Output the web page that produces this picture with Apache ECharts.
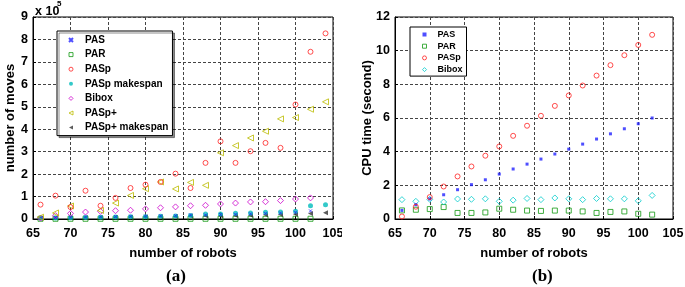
<!DOCTYPE html>
<html>
<head>
<meta charset="utf-8">
<script src="https://cdn.jsdelivr.net/npm/echarts@6/dist/echarts.min.js"></script>
<style>
  html, body { margin: 0; padding: 0; background: #fff; }
  #moves { position: absolute; left: 0; top: 0; width: 342px; height: 287px; }
  #cpu { position: absolute; left: 342px; top: 0; width: 343px; height: 287px; }
</style>
</head>
<body>
<div id="moves"></div>
<div id="cpu"></div>
<script>
// (a) number of moves, in units of 10^5
const robotsA = [66, 68, 70, 72, 74, 76, 78, 80, 82, 84, 86, 88, 90, 92, 94, 96, 98, 100, 102, 104]
const movesPAS = [0.05, 0.07, 0.08, 0.09, 0.1, 0.11, 0.12, 0.13, 0.14, 0.15, 0.18, 0.18, 0.2, 0.21, 0.23, 0.25, 0.27, 0.3, 0.36, null]
const movesPAR = [0.01, 0.01, 0.01, 0.01, 0.01, 0.01, 0.01, 0.01, 0.01, 0.01, 0.01, 0.01, 0.01, 0.01, 0.01, 0.01, 0.01, 0.01, 0.01, null]
const movesPASp = [0.64, 1.04, 0.53, 1.26, 0.59, 0.94, 1.38, 1.53, 1.65, 2.02, 1.38, 2.5, 3.46, 2.5, 3.02, 3.39, 3.17, 5.1, 7.45, 8.27]
const movesPASpMakespan = [0.04, 0.05, 0.06, 0.07, 0.08, 0.09, 0.1, 0.1, 0.12, 0.13, 0.16, 0.22, 0.22, 0.26, 0.27, 0.3, 0.31, 0.34, 0.59, 0.64]
const movesBibox = [0.04, 0.15, 0.25, 0.31, 0.34, 0.37, 0.39, 0.45, 0.5, 0.54, 0.59, 0.61, 0.67, 0.71, 0.76, 0.77, 0.82, 0.89, 0.94, null]
const movesPASpPlus = [0.08, 0.27, 0.58, null, 0.38, 0.71, 1.05, 1.35, 1.65, 1.34, 1.63, 1.5, 2.95, 3.27, 3.61, 3.91, 4.46, 4.52, 4.89, 5.22]
const movesPASpPlusMakespan = [0.03, 0.04, 0.05, 0.06, 0.06, 0.07, 0.08, 0.09, 0.1, 0.11, 0.13, 0.14, 0.14, 0.16, 0.17, 0.19, 0.2, 0.21, 0.25, 0.28]

// (b) CPU time in seconds
const robotsB = [66, 68, 70, 72, 74, 76, 78, 80, 82, 84, 86, 88, 90, 92, 94, 96, 98, 100, 102]
const cpuPAS = [0.51, 0.85, 1.19, 1.44, 1.74, 2.04, 2.33, 2.67, 2.97, 3.26, 3.56, 3.86, 4.15, 4.45, 4.75, 5.06, 5.36, 5.66, 6.0]
const cpuPAR = [0.51, 0.55, 0.59, 0.71, 0.36, 0.36, 0.39, 0.61, 0.55, 0.5, 0.48, 0.5, 0.5, 0.45, 0.36, 0.42, 0.45, 0.31, 0.26]
const cpuPASp = [0.15, 0.73, 1.3, 1.93, 2.53, 3.12, 3.76, 4.31, 4.94, 5.54, 6.13, 6.72, 7.34, 7.93, 8.52, 9.14, 9.73, 10.34, 10.94]
const cpuBibox = [1.15, 1.05, 1.17, 1.01, 1.19, 1.17, 1.2, 1.05, 1.12, 1.22, 1.15, 1.25, 1.2, 1.15, 1.22, 1.2, 1.2, 1.08, 1.4]

const xTicks = { min: 65, max: 105, interval: 5 }
const movesTicks = { min: 0, max: 9, interval: 1 }
const cpuTicks = { min: 0, max: 12, interval: 2 }

const FONT = 'Liberation Sans'
const crossPath = 'path://M0,0L10,10M10,0L0,10'
const leftTri = 'path://M10,0L10,10L0,5Z'

function pairs(xs, ys) {
  return xs.map((x, i) => [x, ys[i]]).filter(p => p[1] !== null)
}

function hollowStyle(color) {
  return { color: 'rgba(255,255,255,0)', borderColor: color, borderWidth: 1 }
}

function axisX(name) {
  return {
    type: 'value',
    min: xTicks.min,
    max: xTicks.max,
    interval: xTicks.interval,
    name: name,
    nameLocation: 'middle',
    nameMoveOverlap: false,
    nameGap: 28,
    nameTextStyle: { fontFamily: FONT, fontWeight: 'bold', fontSize: 13, color: '#000' },
    axisLine: { onZero: false, lineStyle: { color: '#000', width: 1 } },
    axisTick: { inside: true, length: 3, lineStyle: { color: '#000' } },
    axisLabel: { margin: 8, fontFamily: FONT, fontWeight: 'bold', fontSize: 12.5, color: '#000' },
    splitLine: { show: true, lineStyle: { color: '#444', type: [3, 2], width: 1 } },
  }
}

function axisY(name, ticks, gap) {
  return {
    type: 'value',
    min: ticks.min,
    max: ticks.max,
    interval: ticks.interval,
    name: name,
    nameLocation: 'middle',
    nameMoveOverlap: false,
    nameRotate: 90,
    nameGap: gap,
    nameTextStyle: { fontFamily: FONT, fontWeight: 'bold', fontSize: 13, color: '#000' },
    axisLine: { show: true, lineStyle: { color: '#000', width: 1 } },
    axisTick: { inside: true, length: 3, lineStyle: { color: '#000' } },
    axisLabel: { margin: 5, fontFamily: FONT, fontWeight: 'bold', fontSize: 12.5, color: '#000' },
    splitLine: { show: true, lineStyle: { color: '#444', type: [3, 2], width: 1 } },
  }
}

function dot(name, xs, ys, symbol, size, color, hollow) {
  return {
    name: name,
    type: 'scatter',
    symbol: symbol,
    symbolSize: size,
    itemStyle: hollow
      ? hollowStyle(color)
      : { color: color, borderColor: color, borderWidth: symbol === crossPath ? 1 : 0 },
    emphasis: { disabled: true },
    data: pairs(xs, ys),
  }
}

// 左图：移动次数
const movesChart = echarts.init(document.getElementById('moves'))
movesChart.setOption({
  animation: false,
  grid: { left: 33, top: 17, width: 300, height: 202, outerBoundsMode: 'none', show: true, borderColor: '#000', borderWidth: 1 },
  xAxis: axisX('number of robots'),
  yAxis: axisY('number of moves', movesTicks, 16),
  legend: {
    orient: 'vertical',
    left: 57,
    top: 31,
    width: 123,
    padding: [4, 4, 3, 11],
    itemGap: 4.6,
    itemWidth: 4,
    itemHeight: 4,
    backgroundColor: '#fff',
    borderColor: '#000',
    borderWidth: 1,
    shadowColor: 'rgba(0,0,0,0.45)',
    shadowOffsetX: 2,
    shadowOffsetY: 2,
    textStyle: { fontFamily: FONT, fontWeight: 'bold', fontSize: 10, color: '#000', lineHeight: 10, padding: [0, 0, 0, 7] },
    data: [
      { name: 'PAS', icon: crossPath },
      { name: 'PAR', icon: 'rect', itemStyle: hollowStyle('#119911') },
      { name: 'PASp', icon: 'circle', itemStyle: hollowStyle('#ff2222') },
      { name: 'PASp makespan', icon: 'circle' },
      { name: 'Bibox', icon: 'diamond', itemStyle: hollowStyle('#cc00cc') },
      { name: 'PASp+', icon: leftTri, itemStyle: hollowStyle('#bbbb00') },
      { name: 'PASp+ makespan', icon: leftTri },
    ],
  },
  graphic: [
    {
      type: 'text',
      left: 35,
      top: 5,
      style: { text: 'x 10', fontFamily: FONT, fontWeight: 'bold', fontSize: 12.5, fill: '#000' },
    },
    {
      type: 'text',
      left: 57,
      top: 0,
      style: { text: '5', fontFamily: FONT, fontWeight: 'bold', fontSize: 8, fill: '#000' },
    },
    {
      type: 'text',
      left: 166,
      top: 268,
      style: { text: '(a)', fontFamily: 'Liberation Serif', fontWeight: 'bold', fontSize: 17, fill: '#000' },
    },
  ],
  series: [
    dot('PAR', robotsA, movesPAR, 'rect', 5, '#119911', true),
    dot('PASp+ makespan', robotsA, movesPASpPlusMakespan, leftTri, 5, '#333333', false),
    dot('PASp makespan', robotsA, movesPASpMakespan, 'circle', 5, '#00bbbb', false),
    dot('PAS', robotsA, movesPAS, crossPath, 3, '#2222ff', false),
    dot('Bibox', robotsA, movesBibox, 'diamond', 6, '#cc00cc', true),
    dot('PASp+', robotsA, movesPASpPlus, leftTri, 6, '#bbbb00', true),
    dot('PASp', robotsA, movesPASp, 'circle', 5, '#ff2222', true),
  ],
})

// 右图：CPU 时间
const cpuChart = echarts.init(document.getElementById('cpu'))
cpuChart.setOption({
  animation: false,
  grid: { left: 53, top: 17, width: 278, height: 202, outerBoundsMode: 'none', show: true, borderColor: '#000', borderWidth: 1 },
  xAxis: axisX('number of robots'),
  yAxis: axisY('CPU time (second)', cpuTicks, 21),
  legend: {
    orient: 'vertical',
    left: 68,
    top: 27,
    width: 56,
    padding: [3, 4, 2, 12],
    itemGap: 2.7,
    itemWidth: 4,
    itemHeight: 4,
    backgroundColor: '#fff',
    borderColor: '#000',
    borderWidth: 1,
    textStyle: { fontFamily: FONT, fontWeight: 'bold', fontSize: 9, color: '#000', lineHeight: 9, padding: [0, 0, 0, 6] },
    data: [
      { name: 'PAS', icon: 'rect' },
      { name: 'PAR', icon: 'rect', itemStyle: hollowStyle('#119911') },
      { name: 'PASp', icon: 'circle', itemStyle: hollowStyle('#ff2222') },
      { name: 'Bibox', icon: 'diamond', itemStyle: hollowStyle('#00cccc') },
    ],
  },
  graphic: [
    {
      type: 'text',
      left: 190,
      top: 268,
      style: { text: '(b)', fontFamily: 'Liberation Serif', fontWeight: 'bold', fontSize: 17, fill: '#000' },
    },
  ],
  series: [
    dot('PAR', robotsB, cpuPAR, 'rect', 5, '#119911', true),
    dot('Bibox', robotsB, cpuBibox, 'diamond', 6, '#00cccc', true),
    dot('PAS', robotsB, cpuPAS, 'rect', 3, '#2222ff', false),
    dot('PASp', robotsB, cpuPASp, 'circle', 5, '#ff2222', true),
  ],
})
</script>
</body>
</html>
